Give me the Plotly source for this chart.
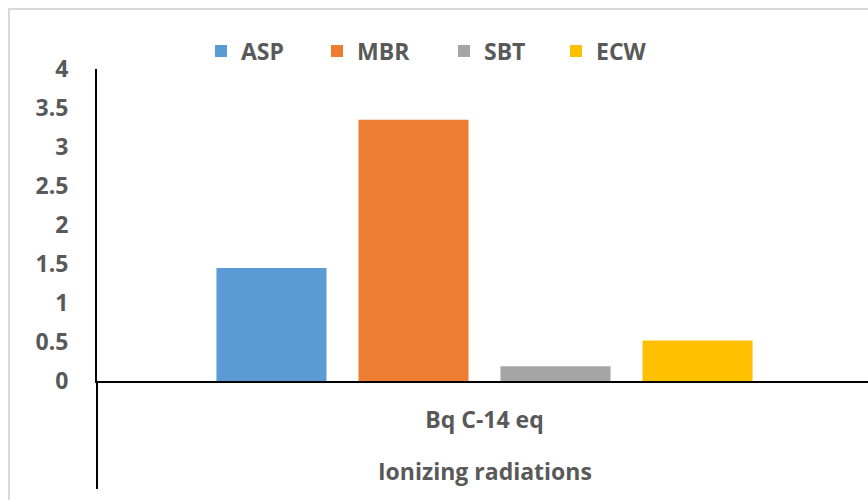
import plotly.graph_objects as go

# Ionizing radiation impact per scenario (Bq C-14 eq)
category = ["Bq C-14 eq"]
series_names = ["ASP", "MBR", "SBT", "ECW"]
series_values = [[1.45], [3.35], [0.19], [0.52]]
series_colors = ["#5B9BD5", "#ED7D31", "#A5A5A5", "#FFC000"]
y_ticks = [0, 0.5, 1, 1.5, 2, 2.5, 3, 3.5, 4]
axis_title = "Ionizing radiations"

W, H = 868, 500
L, R, T, B = 97, 0, 69, 119
PW, PH = W - L - R, H - T - B
TEXT = "#595959"
FONT = "Open Sans"


def px_x(x):
    return (x - L) / PW


def px_y(y):
    return (H - B - y) / PH


fig = go.Figure()
legend_left = [215, 331, 458, 570]
for i, (name, vals, col) in enumerate(zip(series_names, series_values, series_colors)):
    lg = "legend" if i == 0 else f"legend{i + 1}"
    fig.add_trace(go.Bar(
        x=category, y=vals, name=name, marker=dict(color=col, line=dict(width=0)),
        legend=lg,
    ))

legend_style = dict(
    orientation="h", yanchor="middle", xanchor="left",
    font=dict(family=FONT, size=23, color=TEXT, weight="bold"),
    bgcolor="rgba(0,0,0,0)", borderwidth=0,
)
layout_legends = {}
for i, xl in enumerate(legend_left):
    key = "legend" if i == 0 else f"legend{i + 1}"
    layout_legends[key] = dict(legend_style, x=px_x(xl - 14), y=px_y(51))

# category width in pixels, slightly wider than the visible plot area
cat_px = 775
fig.update_layout(
    width=W, height=H,
    margin=dict(l=L, r=R, t=T, b=B, pad=0),
    paper_bgcolor="white", plot_bgcolor="white",
    barmode="group", bargap=0.267, bargroupgap=0.225,
    showlegend=True,
    **layout_legends,
    xaxis=dict(
        range=[-0.5, -0.5 + PW / cat_px],
        showline=True, linecolor="black", linewidth=2,
        showgrid=False, zeroline=False, ticks="",
        tickfont=dict(family=FONT, size=23, color=TEXT, weight="bold"),
        ticklabelstandoff=17,
    ),
    yaxis=dict(
        range=[0, 4], tickvals=y_ticks,
        ticktext=[f"{v:g}" for v in y_ticks],
        showline=True, linecolor="black", linewidth=2,
        showgrid=False, zeroline=False, ticks="",
        tickfont=dict(family=FONT, size=23, color=TEXT, weight="bold"),
        ticklabelstandoff=22,
    ),
    annotations=[dict(
        text=axis_title, xref="x", yref="paper", x=0, y=px_y(471),
        xanchor="center", yanchor="middle", showarrow=False,
        font=dict(family=FONT, size=23, color=TEXT, weight="bold"),
    )],
    shapes=[
        # outer chart frame
        dict(type="rect", xref="paper", yref="paper",
             x0=px_x(9), x1=px_x(W + 20), y0=px_y(H + 20), y1=px_y(9),
             line=dict(color="#D9D9D9", width=2), fillcolor="rgba(0,0,0,0)", layer="below"),
        # category divider extending the left axis below the baseline
        dict(type="line", xref="paper", yref="paper",
             x0=0, x1=0, y0=0, y1=px_y(489),
             line=dict(color="black", width=2)),
    ],
)

fig.write_html("out.html")
